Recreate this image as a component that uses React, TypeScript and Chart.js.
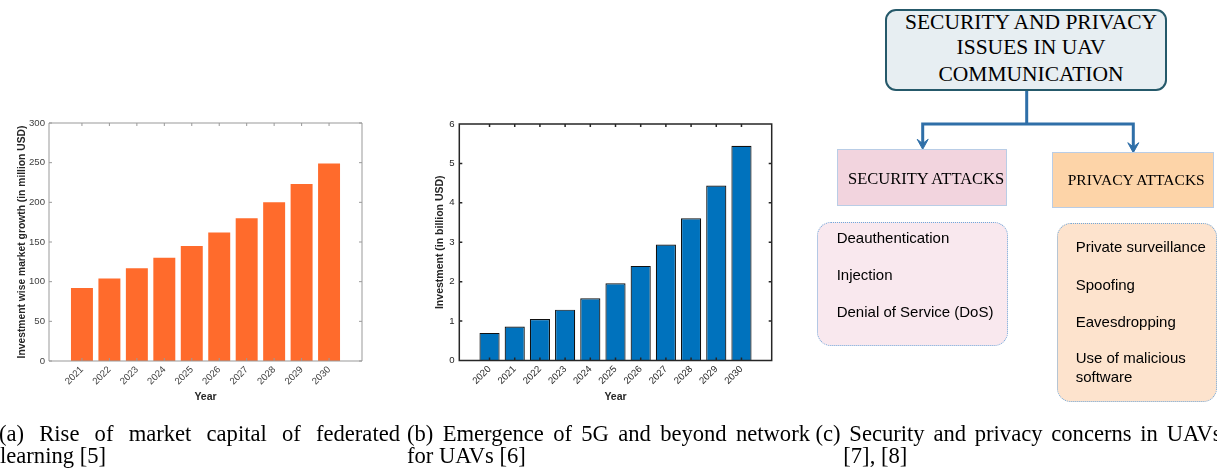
import React, { useEffect, useRef } from "react";
import { Chart, registerables } from "chart.js";

Chart.register(...registerables);

const SANS = '"Liberation Sans", Arial, Helvetica, sans-serif';
const SERIF = '"Liberation Serif", "Times New Roman", Times, serif';
Chart.defaults.font.family = SANS;

// ---------- data ----------
const yearsA = [2021, 2022, 2023, 2024, 2025, 2026, 2027, 2028, 2029, 2030];
const growthA = [92, 104, 117, 130, 145, 162, 180, 200, 223, 249];
const yTicksA = [0, 50, 100, 150, 200, 250, 300];

const yearsB = [2020, 2021, 2022, 2023, 2024, 2025, 2026, 2027, 2028, 2029, 2030];
const investB = [0.7, 0.86, 1.05, 1.29, 1.58, 1.96, 2.4, 2.94, 3.61, 4.44, 5.45];
const yTicksB = [0, 1, 2, 3, 4, 5, 6];

const topTitleLines = ["SECURITY AND PRIVACY", "ISSUES IN UAV", "COMMUNICATION"];
const securityAttacks = ["Deauthentication", "Injection", "Denial of Service (DoS)"];
const privacyAttacks = [["Private surveillance"], ["Spoofing"], ["Eavesdropping"], ["Use of malicious", "software"]];

// ---------- helpers ----------
function framePlugin(color: string, len: number, lw: number) {
  return {
    id: "matlabBox",
    afterDatasetsDraw(chart: any) {
      const { ctx, chartArea } = chart;
      const { left, right, top, bottom } = chartArea;
      const xs = chart.scales.x;
      const ys = chart.scales.y;
      ctx.save();
      ctx.strokeStyle = color;
      ctx.lineWidth = lw;
      ctx.beginPath();
      ctx.rect(left, top, right - left, bottom - top);
      ys.ticks.forEach((t: any) => {
        const py = ys.getPixelForValue(t.value);
        ctx.moveTo(left, py);
        ctx.lineTo(left + len, py);
        ctx.moveTo(right, py);
        ctx.lineTo(right - len, py);
      });
      xs.ticks.forEach((t: any) => {
        const px = xs.getPixelForValue(t.value);
        ctx.moveTo(px, bottom);
        ctx.lineTo(px, bottom - len);
        ctx.moveTo(px, top);
        ctx.lineTo(px, top + len);
      });
      ctx.stroke();
      ctx.restore();
    },
  };
}

type PanelProps = {
  left: number;
  top: number;
  w: number;
  h: number;
  years: number[];
  values: number[];
  yTicks: number[];
  yMax: number;
  color: string;
  border: string;
  borderWidth: number;
  frame: string;
  frameWidth: number;
  text: string;
  titleColor: string;
  yTitle: string;
  yTitleSize: number;
  yTitlePad: number;
  yAxisW: number;
  yTickPad: number;
  xAxisH: number;
  padTop: number;
  padRight: number;
};

function BarPanel(p: PanelProps) {
  const ref = useRef<HTMLCanvasElement>(null);
  useEffect(() => {
    const chart = new Chart(ref.current as HTMLCanvasElement, {
      type: "bar",
      data: {
        datasets: [
          {
            data: p.years.map((yr, i) => ({ x: yr, y: p.values[i] })),
            backgroundColor: p.color,
            borderColor: p.border,
            borderWidth: p.borderWidth,
            barPercentage: 0.8,
            categoryPercentage: 1,
          } as any,
        ],
      },
      options: {
        responsive: false,
        animation: false,
        layout: { padding: { left: 0, top: p.padTop, right: p.padRight, bottom: 0 } },
        plugins: { legend: { display: false }, tooltip: { enabled: false } },
        scales: {
          x: {
            type: "linear",
            offset: false,
            min: p.years[0] - 1.2,
            max: p.years[p.years.length - 1] + 1.2,
            grid: { display: false, drawTicks: false },
            border: { display: false },
            afterBuildTicks: (s: any) => {
              s.ticks = p.years.map((v) => ({ value: v }));
            },
            afterFit: (s: any) => {
              s.height = p.xAxisH;
            },
            ticks: {
              autoSkip: false,
              maxRotation: 45,
              minRotation: 45,
              padding: 3,
              color: p.text,
              font: { family: SANS, size: 9.6 },
              callback: (v: any) => String(v),
            },
            title: {
              display: true,
              text: "Year",
              color: p.titleColor,
              font: { family: SANS, size: 10.5, weight: "bold" },
              padding: { top: 0, bottom: 7 },
            },
          } as any,
          y: {
            type: "linear",
            min: 0,
            max: p.yMax,
            grid: { display: false, drawTicks: false },
            border: { display: false },
            afterBuildTicks: (s: any) => {
              s.ticks = p.yTicks.map((v) => ({ value: v }));
            },
            afterFit: (s: any) => {
              s.width = p.yAxisW;
            },
            ticks: {
              padding: p.yTickPad,
              color: p.text,
              font: { family: SANS, size: 9.6 },
              callback: (v: any) => String(v),
            },
            title: {
              display: true,
              text: p.yTitle,
              color: p.titleColor,
              font: { family: SANS, size: p.yTitleSize, weight: "bold" },
              padding: { top: p.yTitlePad, bottom: 0 },
            },
          } as any,
        },
      },
      plugins: [framePlugin(p.frame, 3, p.frameWidth)],
    });
    return () => chart.destroy();
  }, []);
  return (
    <canvas
      ref={ref}
      width={p.w}
      height={p.h}
      style={{ position: "absolute", left: p.left, top: p.top, width: p.w, height: p.h }}
    />
  );
}

const MET: Record<string, [number, number]> = { serif: [0.891, 0.216], sans: [0.905, 0.212] };

function T(props: {
  x: number;
  baseline: number;
  size: number;
  kind: "serif" | "sans";
  children: any;
  width?: number;
  align?: "left" | "center" | "justify";
}) {
  const [a, d] = MET[props.kind];
  const lh = Math.ceil(props.size * (a + d)) + 1;
  const top = props.baseline - ((lh - props.size * (a + d)) / 2 + props.size * a);
  const style: any = {
    position: "absolute",
    left: props.x,
    top,
    fontFamily: props.kind === "serif" ? SERIF : SANS,
    fontSize: props.size,
    lineHeight: lh + "px",
    color: "#000",
    whiteSpace: props.align === "justify" ? "normal" : "nowrap",
  };
  if (props.width !== undefined) style.width = props.width;
  if (props.align === "center") style.textAlign = "center";
  if (props.align === "justify") {
    style.textAlign = "justify";
    style.textAlignLast = "justify";
  }
  return <div style={style}>{props.children}</div>;
}

function Diagram() {
  const blue = "#2f6fa8";
  return (
    <>
      <div
        style={{
          position: "absolute",
          left: 885,
          top: 9.3,
          width: 282.3,
          height: 81.7,
          boxSizing: "border-box",
          border: "2px solid #25596a",
          borderRadius: 11,
          background: "#e7eef2",
        }}
      />
      {topTitleLines.map((s, i) => (
        <T key={s} x={881} width={300} align="center" baseline={[29.3, 55, 81.7][i]} size={21.5} kind="serif">
          {s}
        </T>
      ))}
      <svg width={1217} height={470} style={{ position: "absolute", left: 0, top: 0 }}>
        <g stroke={blue} strokeWidth={3} fill="none" strokeLinejoin="miter">
          <path d="M1026.7 91 V124" />
          <path d="M922.7 145 V124 H1133.3 V148" />
        </g>
        <g fill={blue} stroke={blue} strokeWidth={1}>
          <path d="M917.2 139.3 L922.7 149.3 L928.2 139.3 L922.7 143.5 Z" />
          <path d="M1127.8 142.7 L1133.3 152.7 L1138.8 142.7 L1133.3 146.9 Z" />
        </g>
      </svg>
      <div
        style={{
          position: "absolute",
          left: 837.3,
          top: 149.3,
          width: 170,
          height: 56.4,
          boxSizing: "border-box",
          background: "#f2d4de",
          border: "1.5px solid #b9cde6",
        }}
      />
      <T x={848} baseline={184.3} size={16.5} kind="serif">
        SECURITY ATTACKS
      </T>
      <div
        style={{
          position: "absolute",
          left: 1052.3,
          top: 151.7,
          width: 162,
          height: 56.6,
          boxSizing: "border-box",
          background: "#fdd4a8",
          border: "1.5px solid #b9cde6",
        }}
      />
      <T x={1067.7} baseline={185} size={15.5} kind="serif">
        PRIVACY ATTACKS
      </T>
      <div
        style={{
          position: "absolute",
          left: 817.3,
          top: 222.3,
          width: 191,
          height: 123.7,
          boxSizing: "border-box",
          background: "#f9e8ee",
          border: "1.5px dotted #6fa8dc",
          borderRadius: 14,
        }}
      />
      {securityAttacks.map((s, i) => (
        <T key={s} x={836.7} baseline={[243.3, 280, 317.3][i]} size={15} kind="sans">
          {s}
        </T>
      ))}
      <div
        style={{
          position: "absolute",
          left: 1056.7,
          top: 223.3,
          width: 160.3,
          height: 178.4,
          boxSizing: "border-box",
          background: "#fde3cd",
          border: "1.5px dotted #6fa8dc",
          borderRadius: 14,
        }}
      />
      {privacyAttacks.map((lines, i) =>
        lines.map((s, j) => (
          <T key={s} x={1075.7} baseline={[252.3, 290, 326.7, 363.3][i] + j * 18.4} size={15} kind="sans">
            {s}
          </T>
        ))
      )}
    </>
  );
}

function Captions() {
  const fs = 22.6;
  const b1 = 441;
  const b2 = 463;
  return (
    <>
      <T x={-1} width={401} align="justify" baseline={b1} size={fs} kind="serif">
        (a) Rise of market capital of federated
      </T>
      <T x={0} baseline={b2} size={fs} kind="serif">
        learning [5]
      </T>
      <T x={407} width={403} align="justify" baseline={b1} size={fs} kind="serif">
        (b) Emergence of 5G and beyond network
      </T>
      <T x={407} baseline={b2} size={fs} kind="serif">
        for UAVs [6]
      </T>
      <T x={815.5} width={406} align="justify" baseline={b1} size={fs} kind="serif">
        (c) Security and privacy concerns in UAVs
      </T>
      <T x={843.3} baseline={b2} size={fs} kind="serif">
        [7], [8]
      </T>
    </>
  );
}

export default function App() {
  return (
    <div
      style={{
        position: "fixed",
        left: 0,
        top: 0,
        width: 1217,
        height: 470,
        overflow: "hidden",
        background: "#fff",
      }}
    >
      <BarPanel
        left={0}
        top={110}
        w={400}
        h={300}
        years={yearsA}
        values={growthA}
        yTicks={yTicksA}
        yMax={300}
        color="#ff6b2c"
        border="#ff6b2c"
        borderWidth={0}
        frame="#999999"
        frameWidth={1}
        text="#404040"
        titleColor="#262626"
        yTitle="Investment wise market growth (in million USD)"
        yTitleSize={10.3}
        yTitlePad={15.5}
        yAxisW={49}
        yTickPad={4}
        xAxisH={49}
        padTop={13}
        padRight={38}
      />
      <BarPanel
        left={420}
        top={110}
        w={400}
        h={300}
        years={yearsB}
        values={investB}
        yTicks={yTicksB}
        yMax={6}
        color="#0072bd"
        border="#111111"
        borderWidth={1.2}
        frame="#262626"
        frameWidth={1.5}
        text="#262626"
        titleColor="#262626"
        yTitle="Investment (in billion USD)"
        yTitleSize={10.5}
        yTitlePad={14}
        yAxisW={39.3}
        yTickPad={4.6}
        xAxisH={49.5}
        padTop={14}
        padRight={48.3}
      />
      <Diagram />
      <Captions />
    </div>
  );
}
